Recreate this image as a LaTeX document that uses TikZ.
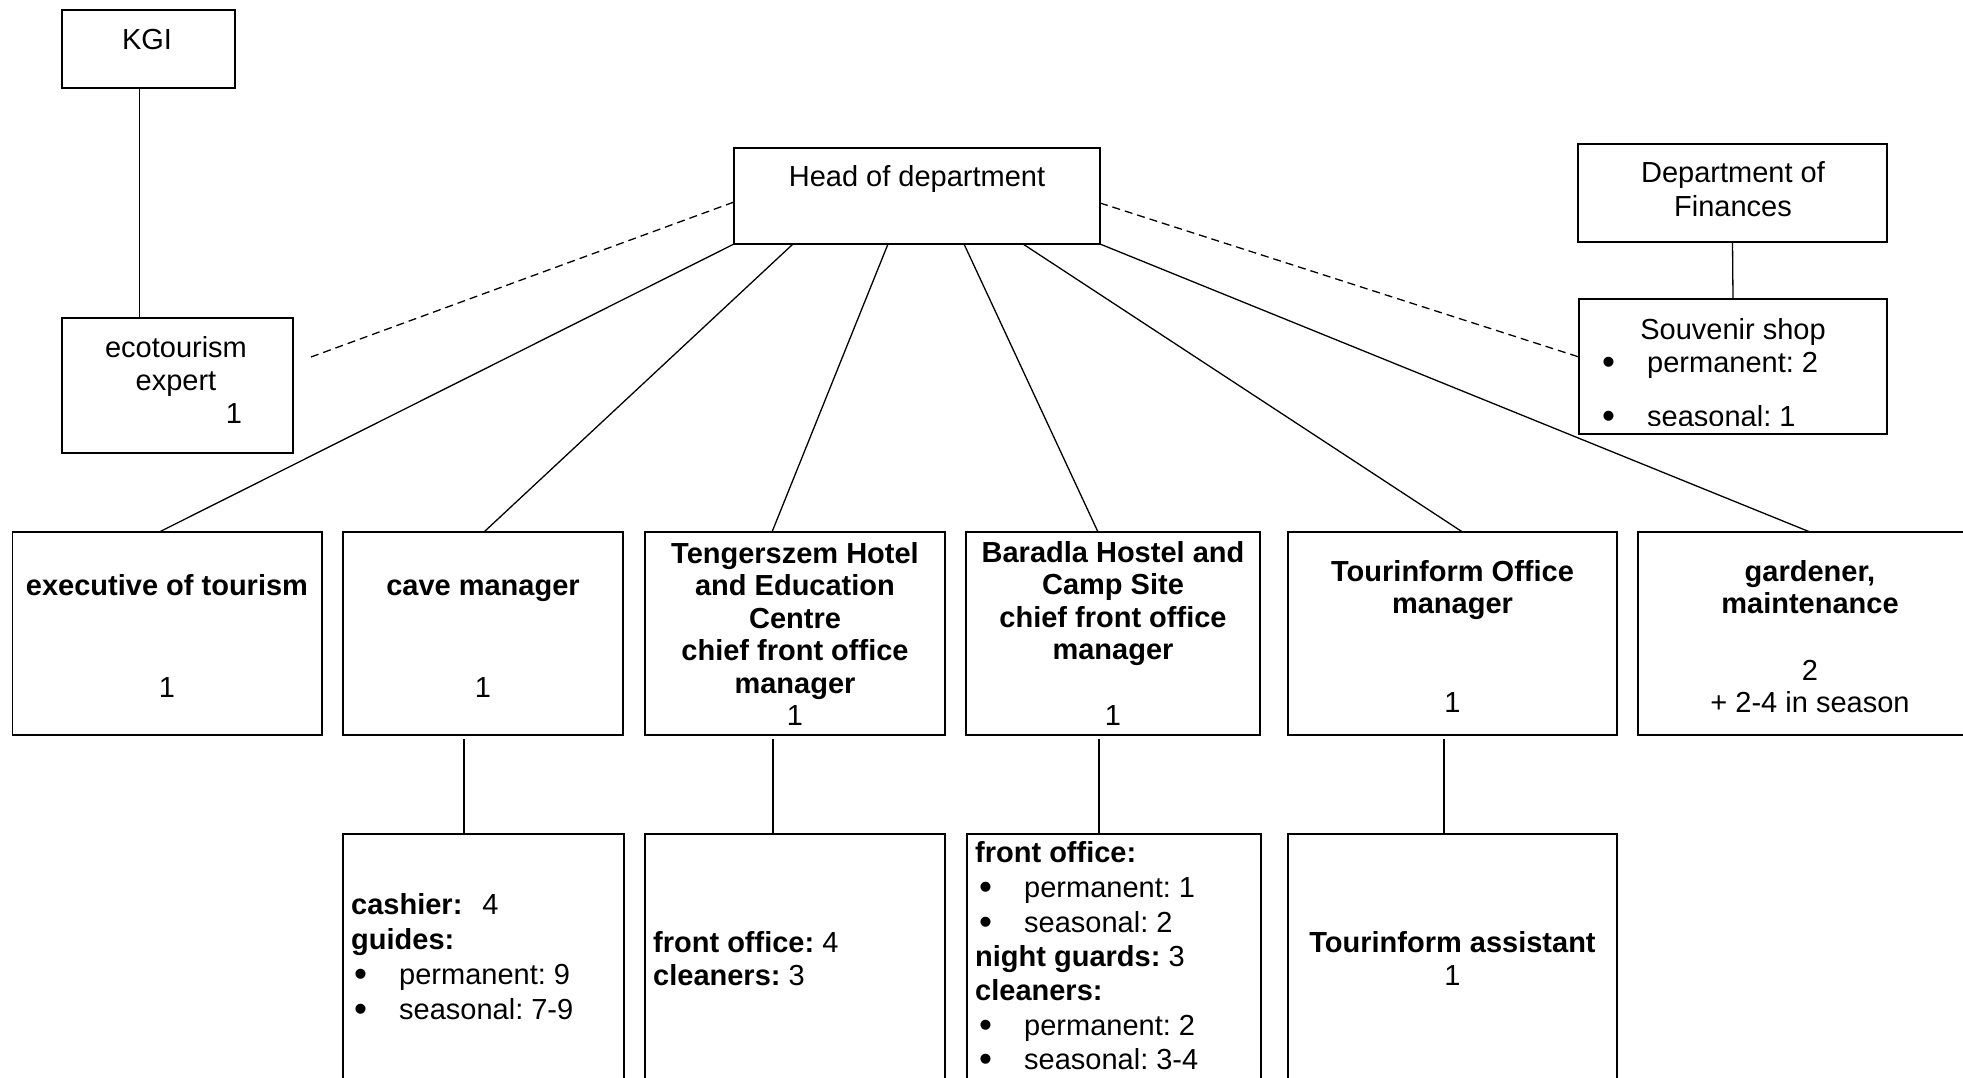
\documentclass[tikz,border=0pt]{standalone}
\usepackage{fontspec}
\setmainfont{Liberation Sans}
\frenchspacing
\newcommand\mysz{\fontsize{29}{33}\selectfont}
\newcommand\bul[1]{\makebox[45pt][l]{\raisebox{-2.5pt}{\fontsize{37}{33}\selectfont •}}#1}
\begin{document}
\begin{tikzpicture}[x=1pt,y=-1pt,
  box/.style={draw, line width=1.8pt, rectangle, inner sep=0pt, outer sep=0pt},
  link/.style={line width=1.3pt},
  dlink/.style={line width=1.3pt, dash pattern=on 8pt off 5pt},
  txt/.style={anchor=base, inner sep=0pt, font=\mysz},
  ltxt/.style={anchor=base west, inner sep=0pt, font=\mysz},
]
\useasboundingbox (0,0) rectangle (1963,1077);
\clip (0,0) rectangle (1963,1077);
\fill[white] (0,0) rectangle (1963,1077);

% ---- boxes ----
\node[box, minimum width=173.4pt, minimum height=78pt] (kgi) at (148.3,49) {};
\node[box, minimum width=231.4pt, minimum height=135pt] (eco) at (177.3,385.5) {};
\node[box, minimum width=366pt, minimum height=96pt] (head) at (917,196) {};
\node[box, minimum width=309pt, minimum height=98pt] (fin) at (1732.5,193) {};
\node[box, minimum width=308pt, minimum height=135pt] (souv) at (1733,366.5) {};

\node[box, minimum width=309.5pt, minimum height=203pt] (m1) at (167.25,633.5) {};
\node[box, minimum width=280pt, minimum height=203pt] (m2) at (483,633.5) {};
\node[box, minimum width=300pt, minimum height=203pt] (m3) at (795,633.5) {};
\node[box, minimum width=294pt, minimum height=203pt] (m4) at (1113,633.5) {};
\node[box, minimum width=329pt, minimum height=203pt] (m5) at (1452.5,633.5) {};
\node[box, minimum width=344pt, minimum height=203pt] (m6) at (1810,633.5) {};

\node[box, minimum width=281pt, minimum height=300pt] (b2) at (483.5,984) {};
\node[box, minimum width=300pt, minimum height=300pt] (b3) at (795,984) {};
\node[box, minimum width=294pt, minimum height=300pt] (b4) at (1114,984) {};
\node[box, minimum width=329pt, minimum height=300pt] (b5) at (1452.5,984) {};

% ---- connectors ----
\draw[link] ([xshift=-9pt]kgi.south) -- ([xshift=-9pt]kgi.south |- eco.north);
\draw[link] (fin.south) -- (souv.north);
\coordinate (dl) at (311,357);
\draw[dlink] (dl) -- ([yshift=-6pt]head.west);
\draw[dlink] ([yshift=-7pt]head.east) -- ([yshift=9.5pt]souv.west);

\draw[link] (head.south west) -- ([xshift=-8pt]m1.north);
\draw[link] ([xshift=59pt]head.south west) -- ([xshift=1pt]m2.north);
\draw[link] ([xshift=154pt]head.south west) -- ([xshift=-23pt]m3.north);
\draw[link] ([xshift=230pt]head.south west) -- ([xshift=-15pt]m4.north);
\draw[link] ([xshift=289pt]head.south west) -- ([xshift=10pt]m5.north);
\draw[link] (head.south east) -- (m6.north);

\draw[link] ([xshift=-19pt,yshift=-4pt]m2.south) -- ([xshift=-19pt]m2.south |- b2.north);
\draw[link] ([xshift=-22pt,yshift=-4pt]m3.south) -- ([xshift=-22pt]m3.south |- b3.north);
\draw[link] ([xshift=-14pt,yshift=-4pt]m4.south) -- ([xshift=-14pt]m4.south |- b4.north);
\draw[link] ([xshift=-8.5pt,yshift=-4pt]m5.south) -- ([xshift=-8.5pt]m5.south |- b5.north);

% ---- texts ----
\node[txt] (tkgi) at (147,49) {KGI};
\node[txt] (teco1) at (176,357) {ecotourism};
\node[txt] (teco2) at (176,390) {expert};
\node[txt] (teco3) at (234,423) {1};
\node[txt] (thead) at (917,186) {Head of department};
\node[txt] (tfin1) at (1733,182) {Department of};
\node[txt] (tfin2) at (1733,216) {Finances};
\node[txt] (tsouv1) at (1733,339) {Souvenir shop};
\node[ltxt] (tsouv2) at (1602,372) {\bul{permanent: 2}};
\begin{scope}
\clip (1579,299) rectangle (1887,425);
\node[ltxt] (tsouv3) at (1602,426) {\bul{seasonal: 1}};
\end{scope}

\node[txt] (tm1a) at (167,595) {\bfseries executive of tourism};
\node[txt] (tm1b) at (167,697) {1};
\node[txt] (tm2a) at (483,595) {\bfseries cave manager};
\node[txt] (tm2b) at (483,697) {1};
\node[txt] (tm3a) at (795,563) {\bfseries Tengerszem Hotel};
\node[txt] (tm3b) at (795,595.5) {\bfseries and Education};
\node[txt] (tm3c) at (795,628) {\bfseries Centre};
\node[txt] (tm3d) at (795,660.5) {\bfseries chief front office};
\node[txt] (tm3e) at (795,693) {\bfseries manager};
\node[txt] (tm3f) at (795,725.5) {1};
\node[txt] (tm4a) at (1113,562) {\bfseries Baradla Hostel and};
\node[txt] (tm4b) at (1113,594.5) {\bfseries Camp Site};
\node[txt] (tm4c) at (1113,627) {\bfseries chief front office};
\node[txt] (tm4d) at (1113,659.5) {\bfseries manager};
\node[txt] (tm4e) at (1113,725) {1};
\node[txt] (tm5a) at (1452.5,581) {\bfseries Tourinform Office};
\node[txt] (tm5b) at (1452.5,613) {\bfseries manager};
\node[txt] (tm5c) at (1452.5,712) {1};
\node[txt] (tm6a) at (1810,581) {\bfseries gardener,};
\node[txt] (tm6b) at (1810,613) {\bfseries maintenance};
\node[txt] (tm6c) at (1810,680) {2};
\node[txt] (tm6d) at (1810,712) {+ 2-4 in season};

\node[ltxt] (tb2a) at (351,914) {\textbf{cashier:}\hspace{20pt}4};
\node[ltxt] (tb2b) at (351,949) {\textbf{guides:}};
\node[ltxt] (tb2c) at (354,984) {\bul{permanent: 9}};
\node[ltxt] (tb2d) at (354,1019) {\bul{seasonal: 7-9}};

\node[ltxt] (tb3a) at (653,952) {\textbf{front office:} 4};
\node[ltxt] (tb3b) at (653,985) {\textbf{cleaners:} 3};

\node[ltxt] (tb4a) at (975,862) {\textbf{front office:}};
\node[ltxt] (tb4b) at (979,897) {\bul{permanent: 1}};
\node[ltxt] (tb4c) at (979,932) {\bul{seasonal: 2}};
\node[ltxt] (tb4d) at (975,966) {\textbf{night guards:} 3};
\node[ltxt] (tb4e) at (975,1000) {\textbf{cleaners:}};
\node[ltxt] (tb4f) at (979,1035) {\bul{permanent: 2}};
\node[ltxt] (tb4g) at (979,1069) {\bul{seasonal: 3-4}};

\node[txt] (tb5a) at (1452.5,952) {\bfseries Tourinform assistant};
\node[txt] (tb5b) at (1452.5,985) {1};
\end{tikzpicture}
\end{document}
